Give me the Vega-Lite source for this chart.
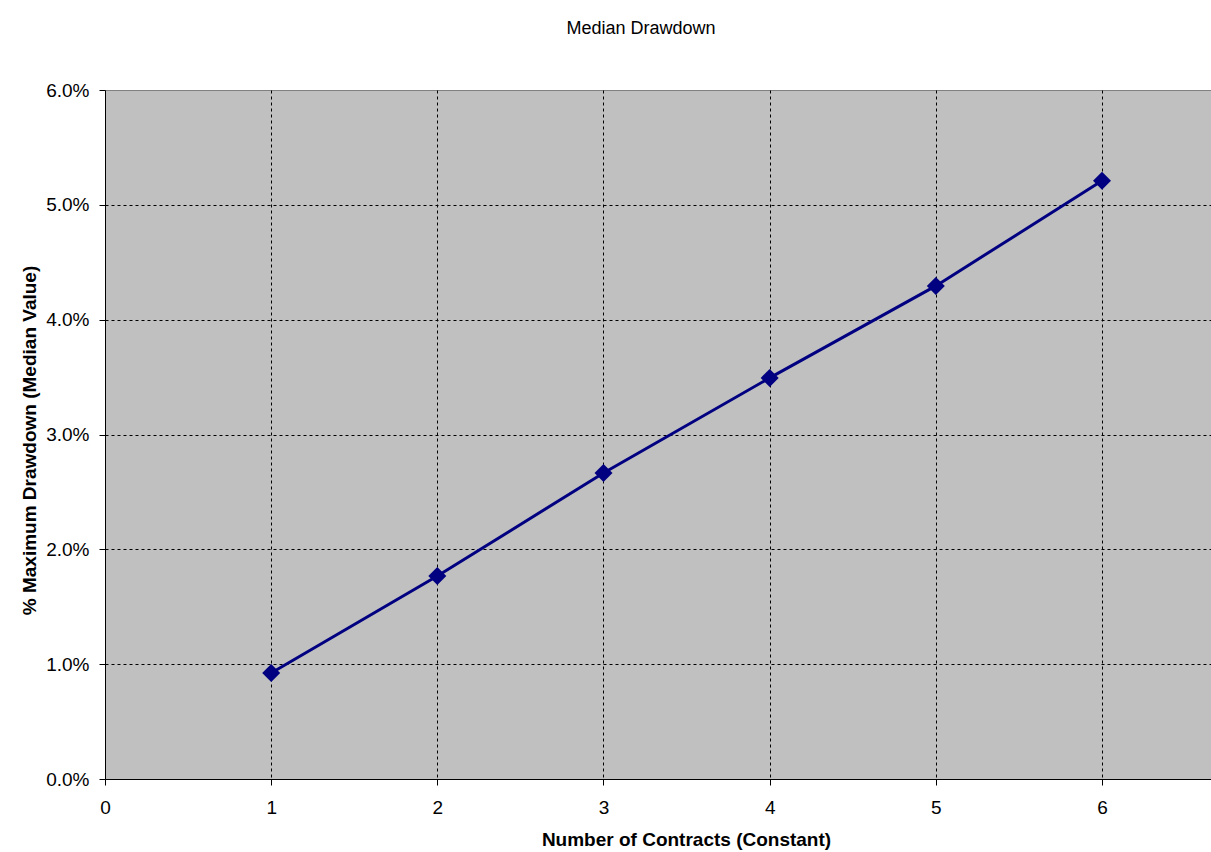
{
  "$schema": "https://vega.github.io/schema/vega-lite/v6.json",
  "autosize": {"type": "none"},
  "padding": {"left": 105, "top": 90, "right": 0, "bottom": 73},
  "width": 1106,
  "height": 689,
  "background": "white",
  "title": {
    "text": "Median Drawdown",
    "font": "Liberation Sans",
    "fontSize": 18,
    "fontWeight": "normal",
    "color": "black",
    "anchor": "middle",
    "dx": -17,
    "offset": 43
  },
  "config": {
    "view": {"fill": "#C0C0C0", "stroke": "#808080", "strokeWidth": 1},
    "axis": {
      "labelFont": "Liberation Sans",
      "labelFontSize": 19,
      "labelColor": "black",
      "titleFont": "Liberation Sans",
      "titleFontSize": 19,
      "titleFontWeight": "bold",
      "titleColor": "black",
      "domainColor": "black",
      "domainWidth": 1,
      "tickColor": "black",
      "tickSize": 6,
      "gridColor": "black",
      "gridDash": [3, 3],
      "gridWidth": 1,
      "zindex": 1
    }
  },
  "data": {
    "values": [
      {"contracts": 1, "drawdown": 0.00923},
      {"contracts": 2, "drawdown": 0.01768},
      {"contracts": 3, "drawdown": 0.02665},
      {"contracts": 4, "drawdown": 0.03493},
      {"contracts": 5, "drawdown": 0.04294},
      {"contracts": 6, "drawdown": 0.05209}
    ]
  },
  "encoding": {
    "x": {
      "field": "contracts",
      "type": "quantitative",
      "scale": {"domain": [0, 6.656], "nice": false, "zero": true},
      "axis": {
        "title": "Number of Contracts (Constant)",
        "values": [0, 1, 2, 3, 4, 5, 6],
        "format": "d",
        "labelFlush": false,
        "labelPadding": 13,
        "titleY": 51,
        "titleX": 581,
        "gridOpacity": {"condition": {"test": "datum.value <= 0", "value": 0}, "value": 1}
      }
    },
    "y": {
      "field": "drawdown",
      "type": "quantitative",
      "scale": {"domain": [0, 0.06], "nice": false},
      "axis": {
        "title": "% Maximum Drawdown (Median Value)",
        "values": [0, 0.01, 0.02, 0.03, 0.04, 0.05, 0.06],
        "format": ".1%",
        "labelFlush": false,
        "labelPadding": 10,
        "titleX": -66,
        "titleY": 350,
        "gridOpacity": {"condition": {"test": "datum.value >= 0.06 || datum.value <= 0", "value": 0}, "value": 1}
      }
    }
  },
  "layer": [
    {"mark": {"type": "line", "color": "#000080", "strokeWidth": 3}},
    {"mark": {"type": "point", "shape": "diamond", "filled": true, "color": "#000080", "size": 324, "opacity": 1}}
  ]
}
